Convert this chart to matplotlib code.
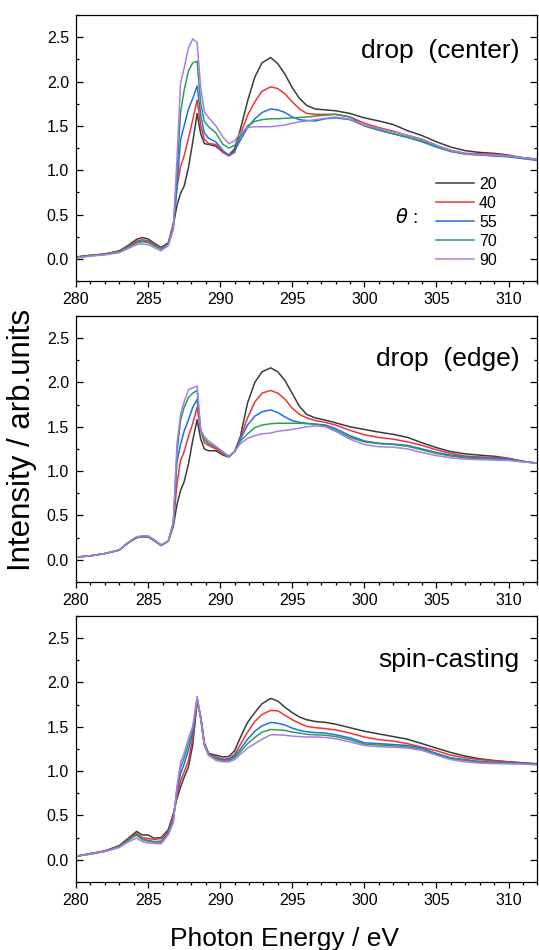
import matplotlib
matplotlib.use("Agg")
import matplotlib.pyplot as plt
from matplotlib.ticker import MultipleLocator, FormatStrFormatter

plt.rcParams["font.family"] = ["Liberation Sans", "DejaVu Sans"]
plt.rcParams["axes.unicode_minus"] = False

# photon energy grid (eV), shared by all curves
energy = [280.0, 281.0, 282.0, 283.0, 283.6, 284.2, 284.6, 285.0, 285.4, 285.9,
          286.4, 286.75, 287.0, 287.25, 287.5, 287.8, 288.1, 288.4, 288.65, 288.9,
          289.2, 289.7, 290.2, 290.6, 291.0, 291.4, 291.9, 292.4, 292.9, 293.5,
          294.0, 294.5, 295.0, 295.5, 296.0, 296.6, 297.3, 298.0, 299.0, 300.0,
          301.0, 302.0, 303.0, 304.0, 305.0, 306.0, 307.0, 308.0, 309.0, 310.0,
          311.0, 312.0]

angles = ["20", "40", "55", "70", "90"]
colors = ["#3c3c3c", "#f03434", "#1f6fe6", "#2b9e58", "#ad7be6"]
titles = ["drop  (center)", "drop  (edge)", "spin-casting"]

# drop (center)
center_20 = [0.02, 0.04, 0.055, 0.09, 0.15, 0.22, 0.24, 0.225, 0.18, 0.13,
             0.18, 0.38, 0.60, 0.74, 0.82, 1.03, 1.32, 1.64, 1.41, 1.30,
             1.29, 1.27, 1.20, 1.17, 1.24, 1.46, 1.78, 2.05, 2.21, 2.27,
             2.20, 2.08, 1.93, 1.81, 1.73, 1.69, 1.68, 1.67, 1.64, 1.59,
             1.555, 1.515, 1.445, 1.39, 1.32, 1.26, 1.22, 1.20, 1.19, 1.17,
             1.14, 1.12]
center_40 = [0.02, 0.04, 0.055, 0.085, 0.14, 0.20, 0.215, 0.205, 0.17, 0.12,
             0.17, 0.40, 0.80, 1.04, 1.16, 1.36, 1.57, 1.79, 1.50, 1.35,
             1.30, 1.29, 1.20, 1.16, 1.20, 1.40, 1.62, 1.77, 1.89, 1.94,
             1.92, 1.86, 1.77, 1.69, 1.64, 1.63, 1.63, 1.63, 1.60, 1.53,
             1.48, 1.44, 1.39, 1.35, 1.28, 1.225, 1.19, 1.185, 1.18, 1.16,
             1.14, 1.12]
center_55 = [0.02, 0.035, 0.05, 0.08, 0.13, 0.185, 0.20, 0.19, 0.155, 0.115,
             0.16, 0.35, 0.80, 1.34, 1.50, 1.69, 1.81, 1.95, 1.62, 1.42,
             1.36, 1.32, 1.22, 1.17, 1.22, 1.34, 1.48, 1.58, 1.65, 1.69,
             1.68, 1.65, 1.60, 1.57, 1.56, 1.555, 1.58, 1.59, 1.57, 1.50,
             1.455, 1.41, 1.37, 1.32, 1.26, 1.21, 1.18, 1.17, 1.16, 1.15,
             1.13, 1.11]
center_70 = [0.02, 0.035, 0.05, 0.08, 0.13, 0.18, 0.195, 0.185, 0.15, 0.11,
             0.16, 0.35, 0.95, 1.65, 1.90, 2.12, 2.21, 2.23, 1.75, 1.55,
             1.49, 1.42, 1.29, 1.25, 1.28, 1.38, 1.50, 1.55, 1.57, 1.58,
             1.58, 1.585, 1.59, 1.595, 1.60, 1.61, 1.62, 1.63, 1.60, 1.50,
             1.45, 1.41, 1.37, 1.33, 1.27, 1.215, 1.185, 1.175, 1.165, 1.155,
             1.14, 1.125]
center_90 = [0.01, 0.03, 0.045, 0.07, 0.115, 0.16, 0.17, 0.16, 0.13, 0.09,
             0.15, 0.33, 1.12, 1.98, 2.15, 2.38, 2.48, 2.44, 1.93, 1.66,
             1.59, 1.50, 1.37, 1.30, 1.33, 1.42, 1.48, 1.49, 1.49, 1.49,
             1.50, 1.51, 1.53, 1.545, 1.555, 1.57, 1.585, 1.60, 1.575, 1.51,
             1.47, 1.43, 1.395, 1.35, 1.28, 1.22, 1.185, 1.175, 1.17, 1.16,
             1.14, 1.12]

# drop (edge)
edge_20 = [0.03, 0.045, 0.07, 0.11, 0.19, 0.25, 0.26, 0.26, 0.22, 0.165,
           0.21, 0.38, 0.62, 0.78, 0.88, 1.08, 1.35, 1.58, 1.36, 1.25,
           1.23, 1.23, 1.18, 1.16, 1.22, 1.39, 1.77, 2.00, 2.12, 2.165,
           2.12, 2.02, 1.875, 1.73, 1.64, 1.60, 1.575, 1.545, 1.50, 1.47,
           1.44, 1.415, 1.38, 1.32, 1.265, 1.22, 1.195, 1.18, 1.168, 1.145,
           1.11, 1.09]
edge_40 = [0.03, 0.045, 0.07, 0.11, 0.19, 0.255, 0.265, 0.265, 0.225, 0.165,
           0.21, 0.40, 0.85, 1.12, 1.22, 1.39, 1.54, 1.72, 1.46, 1.32,
           1.29, 1.25, 1.19, 1.16, 1.22, 1.38, 1.60, 1.78, 1.88, 1.91,
           1.88, 1.81, 1.71, 1.64, 1.60, 1.57, 1.55, 1.52, 1.46, 1.41,
           1.38, 1.36, 1.33, 1.29, 1.24, 1.20, 1.17, 1.16, 1.155, 1.14,
           1.11, 1.09]
edge_55 = [0.03, 0.045, 0.07, 0.11, 0.19, 0.25, 0.26, 0.26, 0.22, 0.16,
           0.21, 0.40, 1.10, 1.30, 1.45, 1.58, 1.72, 1.81, 1.46, 1.36,
           1.31, 1.27, 1.21, 1.16, 1.22, 1.36, 1.52, 1.62, 1.67, 1.69,
           1.66, 1.61, 1.57, 1.55, 1.54, 1.53, 1.52, 1.48, 1.40, 1.34,
           1.315, 1.305, 1.29, 1.25, 1.21, 1.18, 1.16, 1.15, 1.145, 1.135,
           1.11, 1.09]
edge_70 = [0.03, 0.045, 0.07, 0.11, 0.19, 0.255, 0.265, 0.265, 0.225, 0.165,
           0.21, 0.42, 1.20, 1.57, 1.72, 1.83, 1.88, 1.91, 1.46, 1.36,
           1.31, 1.27, 1.21, 1.17, 1.22, 1.34, 1.42, 1.49, 1.52, 1.535,
           1.54, 1.54, 1.54, 1.54, 1.535, 1.53, 1.51, 1.46, 1.38, 1.33,
           1.31, 1.30, 1.28, 1.24, 1.20, 1.17, 1.15, 1.14, 1.135, 1.125,
           1.105, 1.09]
edge_90 = [0.03, 0.045, 0.07, 0.11, 0.195, 0.26, 0.27, 0.27, 0.23, 0.17,
           0.21, 0.42, 1.30, 1.64, 1.78, 1.92, 1.94, 1.96, 1.46, 1.39,
           1.34, 1.28, 1.22, 1.16, 1.22, 1.31, 1.37, 1.40, 1.42, 1.43,
           1.45, 1.46, 1.47, 1.485, 1.50, 1.51, 1.50, 1.45, 1.36, 1.30,
           1.275, 1.27, 1.25, 1.21, 1.175, 1.15, 1.135, 1.13, 1.125, 1.12,
           1.105, 1.09]

# spin-casting
spin_20 = [0.04, 0.07, 0.10, 0.16, 0.24, 0.32, 0.28, 0.28, 0.245, 0.25,
           0.34, 0.52, 0.69, 0.82, 0.93, 1.05, 1.30, 1.78, 1.62, 1.32,
           1.20, 1.18, 1.16, 1.165, 1.23, 1.38, 1.55, 1.66, 1.76, 1.82,
           1.79, 1.72, 1.66, 1.61, 1.58, 1.56, 1.55, 1.53, 1.49, 1.45,
           1.42, 1.39, 1.36, 1.31, 1.26, 1.21, 1.17, 1.14, 1.12, 1.105,
           1.095, 1.08]
spin_40 = [0.04, 0.07, 0.10, 0.15, 0.23, 0.30, 0.25, 0.24, 0.23, 0.24,
           0.32, 0.50, 0.72, 0.89, 0.99, 1.12, 1.37, 1.80, 1.60, 1.30,
           1.19, 1.16, 1.135, 1.14, 1.19, 1.30, 1.44, 1.56, 1.64, 1.685,
           1.68, 1.63, 1.58, 1.54, 1.505, 1.49, 1.48, 1.465, 1.43, 1.385,
           1.355, 1.34, 1.31, 1.27, 1.23, 1.18, 1.15, 1.13, 1.115, 1.105,
           1.09, 1.085]
spin_55 = [0.04, 0.065, 0.095, 0.145, 0.22, 0.28, 0.23, 0.22, 0.205, 0.21,
           0.31, 0.46, 0.77, 0.97, 1.08, 1.24, 1.43, 1.82, 1.60, 1.30,
           1.18, 1.145, 1.125, 1.13, 1.17, 1.25, 1.36, 1.45, 1.51, 1.55,
           1.54, 1.52, 1.485, 1.46, 1.445, 1.435, 1.43, 1.41, 1.375, 1.32,
           1.31, 1.30, 1.29, 1.26, 1.20, 1.15, 1.13, 1.11, 1.10, 1.095,
           1.09, 1.08]
spin_70 = [0.04, 0.065, 0.095, 0.145, 0.22, 0.29, 0.23, 0.21, 0.20, 0.20,
           0.30, 0.44, 0.80, 1.04, 1.15, 1.31, 1.47, 1.83, 1.60, 1.30,
           1.18, 1.14, 1.115, 1.115, 1.15, 1.22, 1.31, 1.38, 1.44, 1.47,
           1.465, 1.46, 1.44, 1.43, 1.415, 1.41, 1.405, 1.39, 1.355, 1.305,
           1.295, 1.285, 1.275, 1.245, 1.19, 1.14, 1.12, 1.10, 1.095, 1.09,
           1.085, 1.075]
spin_90 = [0.04, 0.065, 0.095, 0.14, 0.20, 0.245, 0.205, 0.19, 0.185, 0.18,
           0.28, 0.42, 0.82, 1.10, 1.20, 1.37, 1.51, 1.84, 1.60, 1.30,
           1.18, 1.12, 1.105, 1.105, 1.13, 1.19, 1.26, 1.31, 1.36, 1.41,
           1.41, 1.405, 1.395, 1.39, 1.385, 1.385, 1.38, 1.365, 1.33, 1.29,
           1.275, 1.27, 1.26, 1.235, 1.18, 1.13, 1.105, 1.09, 1.085, 1.082,
           1.08, 1.07]

panels = [
    [center_20, center_40, center_55, center_70, center_90],
    [edge_20, edge_40, edge_55, edge_70, edge_90],
    [spin_20, spin_40, spin_55, spin_70, spin_90],
]

fig = plt.figure(figsize=(5.39, 9.5), dpi=100)
bottoms = [0.7042, 0.3874, 0.0716]
title_y = [0.837, 0.812, 0.809]

for k in range(3):
    ax = fig.add_axes([0.141, bottoms[k], 0.856, 0.28])
    for i in range(5):
        ax.plot(energy, panels[k][i], color=colors[i], lw=1.1, label=angles[i])
    ax.set_xlim(280, 312)
    ax.set_ylim(-0.25, 2.75)
    ax.xaxis.set_major_locator(MultipleLocator(5))
    ax.xaxis.set_minor_locator(MultipleLocator(1))
    ax.yaxis.set_major_locator(MultipleLocator(0.5))
    ax.yaxis.set_minor_locator(MultipleLocator(0.25))
    ax.yaxis.set_major_formatter(FormatStrFormatter("%.1f"))
    ax.tick_params(axis="x", which="both", direction="out", top=False,
                   width=0.9, labelsize=11.5, pad=4)
    ax.tick_params(axis="x", which="major", length=4)
    ax.tick_params(axis="x", which="minor", length=2.5)
    ax.tick_params(axis="y", which="both", direction="in", left=True, right=True,
                   width=0.9, labelsize=11.5, pad=5)
    ax.tick_params(axis="y", which="major", length=5)
    ax.tick_params(axis="y", which="minor", length=2.5)
    for sp in ax.spines.values():
        sp.set_linewidth(0.9)
    ax.text(0.962, title_y[k], titles[k], transform=ax.transAxes,
            ha="right", va="baseline", fontsize=19)
    if k == 0:
        ax.legend(loc="center left", bbox_to_anchor=(0.78, 0.22), frameon=False,
                  fontsize=11.5, handlelength=2.4, handletextpad=0.3,
                  labelspacing=0.25, borderpad=0, borderaxespad=0)
        ax.text(0.691, 0.24, r"$\theta$ :", transform=ax.transAxes,
                ha="left", va="center", fontsize=14)

fig.text(0.041, 0.537, "Intensity / arb.units", rotation=90,
         ha="center", va="center", fontsize=22.5)
fig.text(0.527, 0.004, "Photon Energy / eV", ha="center", va="baseline",
         fontsize=19)

fig.savefig("out.png", dpi=100)
